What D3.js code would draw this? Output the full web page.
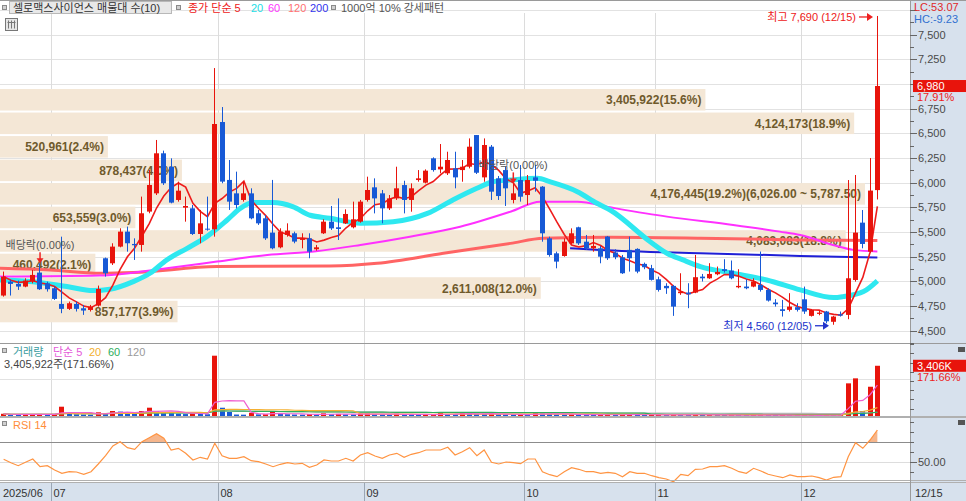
<!DOCTYPE html>
<html lang="ko">
<head>
<meta charset="UTF-8" />
<title>셀로맥스사이언스 일봉</title>
<script src="https://d3js.org/d3.v7.min.js"></script>
<style>
  body { margin: 0; background: #fff; }
  svg { display: block; font-family: "Liberation Sans", "Noto Sans CJK KR", sans-serif; }
</style>
</head>
<body>
<svg id="chart" width="966" height="501"></svg>
<script>
// ---- data ----
const dates = [
  "06/20","06/23","06/24","06/25","06/26","06/27","06/30",
  "07/01","07/02","07/03","07/04","07/07","07/08","07/09","07/10","07/11","07/14","07/15","07/16","07/17","07/18","07/21","07/22","07/23","07/24","07/25","07/28","07/29","07/30","07/31",
  "08/01","08/04","08/05","08/06","08/07","08/08","08/11","08/12","08/13","08/14","08/18","08/19","08/20","08/21","08/22","08/25","08/26","08/27","08/28","08/29",
  "09/01","09/02","09/03","09/04","09/05","09/08","09/09","09/10","09/11","09/12","09/15","09/16","09/17","09/18","09/19","09/22","09/23","09/24","09/25","09/26","09/29","09/30",
  "10/01","10/02","10/10","10/13","10/14","10/15","10/16","10/17","10/20","10/21","10/22","10/23","10/24","10/27","10/28","10/29","10/30","10/31",
  "11/03","11/04","11/05","11/06","11/07","11/10","11/11","11/12","11/13","11/14","11/17","11/18","11/19","11/20","11/21","11/24","11/25","11/26","11/27","11/28",
  "12/01","12/02","12/03","12/04","12/05","12/08","12/09","12/10","12/11","12/12","12/15"
];

const opens = [4856,4997,4974,4947,4997,5089,4980,4930,4771,4721,
  4771,4727,4710,4754,5234,5183,5352,5504,5379,5369,
  5707,5892,6298,6163,5825,5747,5740,5480,5534,5528,
  6615,6028,5892,5825,5892,5690,5639,5494,5345,5470,
  5487,5420,5436,5325,5487,5605,5548,5588,5548,5605,
  5825,5953,5892,5740,5841,5976,5825,6027,6000,6247,
  6135,6095,6145,6128,6162,6483,6054,6365,6044,6128,
  5825,6027,5875,6054,5960,5436,5284,5257,5385,5548,
  5402,5335,5335,5454,5292,5244,5319,5329,5177,5133,
  5021,4954,4954,4880,4886,4886,5048,5031,5072,5123,
  5109,4940,4947,4947,4964,4913,4785,4717,4711,4738,
  4818,4650,4670,4694,4590,4666,4660,5014,5595,5301,
  5925];
const highs = [5099,5014,5008,5031,5116,5183,4997,4947,5453,4795,
  4795,4761,4761,4957,5241,5386,5538,5555,5436,5859,
  6129,6433,6325,6247,6011,5859,5774,5724,5859,7162,
  6767,6230,6112,6011,5943,5724,5673,6028,5538,5588,
  5504,5487,5487,5369,5629,5764,5841,5730,5808,5825,
  6061,6044,5926,5875,6162,6020,5993,6128,6135,6257,
  6392,6314,6314,6230,6449,6483,6449,6382,6068,6162,
  5993,6179,6078,6179,5966,5453,5301,5436,5537,5554,
  5470,5470,5359,5460,5325,5268,5454,5335,5190,5167,
  5048,4981,4964,5082,4981,5268,5075,5184,5150,5224,
  5211,5123,5021,5031,5302,4930,4819,4812,4880,4778,
  4947,4717,4704,4700,4650,4694,6027,6078,5723,6250,
  7690];
const lows = [4845,4856,4913,4940,4980,4913,4896,4812,4677,4710,
  4694,4660,4694,4744,5048,5166,5345,5301,5217,5301,
  5690,5875,5977,5791,5808,5605,5470,5386,5514,5453,
  5994,5724,5740,5808,5629,5572,5420,5325,5335,5453,
  5386,5335,5234,5311,5480,5521,5419,5581,5537,5595,
  5808,5689,5588,5723,5825,5689,5706,6010,5993,6112,
  6095,6078,5943,6010,6145,6088,6010,5825,5825,5764,
  5791,5808,5774,5909,5402,5250,5132,5250,5379,5369,
  5318,5301,5183,5217,5224,5075,5099,5082,5123,5008,
  4896,4873,4650,4863,4728,4880,4998,5025,5062,5089,
  5021,4930,4920,4940,4896,4795,4744,4643,4694,4694,
  4670,4643,4656,4575,4560,4643,4616,4997,5335,5290,
  5830];
const closes = [5048,4974,4947,5008,5065,4920,4920,4822,4721,4778,
  4721,4704,4744,4923,5082,5352,5504,5386,5366,5690,
  5977,6298,5994,5798,5919,5764,5480,5588,5524,6595,
  6011,5808,5774,5892,5639,5588,5436,5335,5504,5514,
  5403,5436,5301,5345,5605,5537,5531,5683,5629,5808,
  5926,5841,5740,5841,5943,5825,5943,6044,6122,6128,
  6162,6230,6054,6162,6365,6101,6382,5909,5865,5943,
  5892,5858,6027,6020,5487,5267,5200,5402,5487,5385,
  5335,5359,5250,5234,5244,5082,5234,5099,5143,5015,
  4913,4930,4744,4896,4869,5042,5031,5075,5096,5106,
  5031,4954,4930,4998,4913,4805,4768,4700,4744,4711,
  4694,4710,4683,4595,4643,4653,5031,5494,5379,5920,
  6980];
const volumes = [150000,90000,80000,100000,120000,140000,90000,110000,630000,180000,
  120000,100000,90000,250000,200000,340000,300000,200000,150000,340000,
  563000,340000,270000,250000,160000,130000,170000,140000,120000,4089000,
  560000,270000,100000,90000,220000,110000,120000,270000,150000,120000,
  100000,90000,130000,80000,180000,120000,140000,110000,100000,150000,
  170000,120000,100000,90000,150000,110000,100000,80000,90000,100000,
  200000,120000,110000,200000,150000,140000,130000,160000,110000,100000,
  90000,100000,90000,200000,180000,140000,100000,90000,110000,90000,
  80000,70000,90000,100000,80000,90000,110000,90000,60000,70000,
  80000,60000,100000,80000,70000,120000,60000,70000,60000,50000,
  60000,50000,40000,50000,80000,60000,50000,60000,50000,40000,
  60000,50000,40000,60000,50000,120000,2214000,2553000,340000,1984115,
  3405922];
const rsi14 = [52.7,49.3,46.3,49.7,53,45.3,46.3,42,38.7,40.3,
  40,37.7,40.3,48,56.3,66,70.3,64.3,62.7,70.3,
  74.3,78.3,73.7,62,63.7,58.7,52,54.7,53,68.7,
  56.3,53.7,53.7,55.3,51.3,50.3,48,45.3,47.7,49.3,
  48,48.7,44.7,47,52,51,51,53.7,51,57,
  59.3,56,53.7,57,58.7,54.7,57.7,59.3,62,62,
  62,64.7,57,60.3,64.3,56.3,62,49.7,48,50,
  49.3,48.3,53,53,40.3,37.3,35.3,40.3,44.3,42.7,
  40.3,40.3,38.7,39.7,38.7,35.3,40.3,38.7,38.7,36.3,
  34.3,33,30.3,37.7,36.3,42.7,43,45.3,45.3,46.3,
  43.7,40.3,38.7,43.7,41,37.7,36,34.3,37,35.3,
  35.3,36,34.3,32,34.7,35.3,55.3,69.3,63.7,72,
  82];

// long moving averages (need history before the window) read as [index, value]
const ma20Pts = [[-0.5,5014],[4,4997],[8.7,4947],[12.3,4906],[14.6,4920],[17.8,4997],[20.1,5082],[22.4,5217],[25.2,5335],[27.9,5453],[30.7,5622],[32.5,5740],[34.3,5798],[37,5798],[39.7,5757],[42.1,5670],[44.8,5640],[49,5588],[53.5,5605],[58.2,5689],[61.7,5825],[65,5943],[67.2,6010],[69.6,6027],[73.3,6044],[75,6010],[78.8,5909],[81.5,5791],[83.3,5723],[88.8,5402],[91.1,5285],[93.3,5217],[95.7,5149],[100.2,5082],[104.8,5014],[109.4,4913],[114,4835],[115.3,4845],[118.1,4896],[120,5005]];
const ma60Pts = [[-0.5,5048],[13.2,5058],[22.4,5133],[29.3,5200],[36.2,5268],[42.9,5305],[49,5369],[55.8,5453],[62.7,5554],[69.6,5706],[73.7,5808],[78.8,5808],[83.3,5750],[91.1,5656],[100.2,5572],[106.6,5504],[109.4,5470],[113.9,5369],[116.7,5319],[120,5302]];
const ma120Pts = [[-0.5,5133],[6.4,5116],[13.2,5082],[17.8,5089],[29.3,5150],[44.8,5156],[51.3,5183],[60.4,5284],[69.6,5385],[74.1,5436],[83.3,5446],[95.7,5437],[109.4,5420],[120,5413]];
const ma200Pts = [[77.8,5335],[81.9,5318],[95.7,5285],[109.4,5258],[120,5241]];

// 매물대 (volume by price, 10 bands from the top)
const bandVols = [3405922, 4124173, 520961, 878437, 4176445, 653559, 4083083, 460492, 2611008, 857177];

const exDivIdx = [5, 70];
const priceTicks = [4500,4750,5000,5250,5500,5750,6000,6250,6500,6750,7000,7250,7500,7750];
const lcText = "LC:53.07", hcText = "HC:-9.23";

// ---- layout ----
const svg = d3.select("#chart");
const W = 966, H = 501, plotW = 910;
const n = dates.length;
const RED = "#e8140c", BLUE = "#1759d6";

const x = d3.scaleBand().domain(d3.range(n)).range([0, 881]).paddingInner(0.3).paddingOuter(0.15);
const xMid = d3.scaleLinear().domain([0, n - 1])
  .range([x(0) + x.bandwidth() / 2, x(n - 1) + x.bandwidth() / 2]);
const yP = d3.scaleLinear().domain([4375, 7852]).range([343, 0]);
const yV = d3.scaleLinear().domain([0, 4950000]).range([416, 343]);
const yR = d3.scaleLinear().domain([31, 94]).range([481, 418]);

const fmt = d3.format(",");

svg.append("rect").attr("width", W).attr("height", H).attr("fill", "#fff");
svg.append("rect").attr("x", plotW).attr("y", 0).attr("width", W - plotW).attr("height", H).attr("fill", "#d7e1ed");
svg.append("rect").attr("x", 0).attr("y", 483).attr("width", W).attr("height", H - 483).attr("fill", "#d7e1ed");

// month boundaries
const monthStarts = d3.range(n).filter(i => i === 0 || dates[i].slice(0, 2) !== dates[i - 1].slice(0, 2));
const boundX = i => Math.round(x(i) - x.step() * x.paddingInner() / 2) + 0.5;

// grid
const grid = svg.append("g");
priceTicks.forEach(t => {
  grid.append("line").attr("x1", 0).attr("x2", plotW).attr("y1", Math.round(yP(t)) + 0.5).attr("y2", Math.round(yP(t)) + 0.5)
    .attr("stroke", "#e2e2e2");
});
monthStarts.filter(i => i > 0).forEach(i => {
  grid.append("line").attr("x1", boundX(i)).attr("x2", boundX(i)).attr("y1", 13).attr("y2", 481).attr("stroke", "#dcdcdc");
  grid.append("line").attr("x1", boundX(i)).attr("x2", boundX(i)).attr("y1", 483).attr("y2", H).attr("stroke", "#9aa6b4");
});
grid.append("line").attr("x1", 0).attr("x2", plotW).attr("y1", Math.round(yV(2500000)) + 0.5).attr("y2", Math.round(yV(2500000)) + 0.5).attr("stroke", "#e2e2e2");
grid.append("line").attr("x1", 0).attr("x2", plotW).attr("y1", Math.round(yR(50)) + 0.5).attr("y2", Math.round(yR(50)) + 0.5).attr("stroke", "#dddddd");
grid.append("line").attr("x1", 0).attr("x2", plotW).attr("y1", Math.round(yR(70)) + 0.5).attr("y2", Math.round(yR(70)) + 0.5).attr("stroke", "#8c8c8c");

// ---- 매물대 bands ----
const hiC = d3.max(closes), loC = d3.min(closes);
const bandStep = (hiC - loC) / bandVols.length;
const volSum = d3.sum(bandVols);
const maxBand = d3.max(bandVols);
const bandW = d3.scaleLinear().domain([0, maxBand]).range([0, 865]);
const bands = svg.append("g");
const bandLabels = svg.append("g").attr("font-size", 12).attr("font-weight", "bold").attr("fill", "#6f5a2c");
bandVols.forEach((v, k) => {
  const top = hiC - k * bandStep, bot = top - bandStep;
  const y0 = yP(top) + 3, y1 = yP(bot) + 1;
  bands.append("rect").attr("x", 0).attr("y", y0).attr("width", bandW(v)).attr("height", y1 - y0).attr("fill", "#f4e7d6");
  let label = fmt(v) + "(" + (v / volSum * 100).toFixed(1) + "%)";
  if (v === maxBand) label += "(" + d3.format(",.2f")(top) + " ~ " + d3.format(",.2f")(bot) + ")";
  bandLabels.append("text").attr("x", bandW(v) - 4).attr("y", (y0 + y1) / 2 + 4.5).attr("text-anchor", "end").text(label);
});

// ---- moving averages ----
const lineIdx = d3.line().x(d => xMid(d[0])).y(d => yP(d[1])).curve(d3.curveMonotoneX);
svg.append("path").attr("d", lineIdx(ma120Pts)).attr("fill", "none").attr("stroke", "#ff6464").attr("stroke-width", 3);
svg.append("path").attr("d", lineIdx(ma200Pts)).attr("fill", "none").attr("stroke", "#1f1fd6").attr("stroke-width", 2);
svg.append("path").attr("d", lineIdx(ma60Pts)).attr("fill", "none").attr("stroke", "#ff30ff").attr("stroke-width", 2);
svg.append("path").attr("d", lineIdx(ma20Pts)).attr("fill", "none").attr("stroke", "#2ee8f0").attr("stroke-width", 5);

const ma5 = closes.map((c, i) => [i, d3.mean(closes.slice(Math.max(0, i - 4), i + 1))]);
svg.append("path").attr("d", d3.line().x(d => xMid(d[0])).y(d => yP(d[1]))(ma5))
  .attr("fill", "none").attr("stroke", "#ee1c1c").attr("stroke-width", 1.6);

// ---- candles ----
const candles = svg.append("g").selectAll("g").data(d3.range(n)).join("g");
const bx = i => Math.round(x(i));
candles.append("line")
  .attr("x1", i => bx(i) + 2.5).attr("x2", i => bx(i) + 2.5)
  .attr("y1", i => yP(highs[i])).attr("y2", i => yP(lows[i]))
  .attr("stroke", i => closes[i] >= opens[i] ? RED : BLUE).attr("stroke-width", 1);
candles.append("rect")
  .attr("x", i => bx(i)).attr("width", 5)
  .attr("y", i => yP(Math.max(opens[i], closes[i])))
  .attr("height", i => Math.max(1, Math.abs(yP(opens[i]) - yP(closes[i]))))
  .attr("fill", i => closes[i] >= opens[i] ? RED : BLUE);

// ---- annotations ----
const ann = svg.append("g").attr("font-size", 11);
exDivIdx.forEach(i => {
  const tip = yP(highs[i]);
  const cx = xMid(i);
  ann.append("line").attr("x1", cx).attr("x2", cx).attr("y1", tip - 11).attr("y2", tip - 4).attr("stroke", "#ee2222").attr("stroke-width", 1.5);
  ann.append("path").attr("d", `M${cx - 3.5},${tip - 5}L${cx + 3.5},${tip - 5}L${cx},${tip}Z`).attr("fill", "#ee2222");
  ann.append("text").attr("x", cx).attr("y", tip - 14).attr("text-anchor", "middle").attr("fill", "#555").text("배당락(0.00%)");
});

const hiIdx = d3.maxIndex(highs), loIdx = d3.minIndex(lows);
function pointer(i, price, color, label) {
  const tipX = bx(i) - 2, ty = yP(price) + 1;
  ann.append("line").attr("x1", tipX - 14).attr("x2", tipX - 4).attr("y1", ty).attr("y2", ty).attr("stroke", color).attr("stroke-width", 1.3);
  ann.append("path").attr("d", `M${tipX - 6},${ty - 4}L${tipX},${ty}L${tipX - 6},${ty + 4}Z`).attr("fill", color);
  ann.append("text").attr("x", tipX - 17).attr("y", ty + 4).attr("text-anchor", "end").attr("fill", color).text(label);
}
pointer(hiIdx, highs[hiIdx], "#ee2020", "최고 " + fmt(highs[hiIdx]) + " (" + dates[hiIdx] + ")");
pointer(loIdx, lows[loIdx], "#2233cc", "최저 " + fmt(lows[loIdx]) + " (" + dates[loIdx] + ")");

// ---- volume panel ----
const vol = svg.append("g");
vol.selectAll("rect").data(d3.range(n)).join("rect")
  .attr("x", i => bx(i)).attr("width", 5)
  .attr("y", i => Math.min(yV(volumes[i]), 415))
  .attr("height", i => Math.max(1, 416 - yV(volumes[i])))
  .attr("fill", i => (i === 0 || volumes[i] >= volumes[i - 1]) ? RED : BLUE);
[[120, "#b4b4b4"], [60, "#2cae5c"], [20, "#f5b030"], [5, "#f060d0"]].forEach(([p, c]) => {
  const m = volumes.map((v, i) => [i, d3.mean(volumes.slice(Math.max(0, i - p + 1), i + 1))]);
  vol.append("path").attr("d", d3.line().x(d => xMid(d[0])).y(d => yV(d[1]))(m))
    .attr("fill", "none").attr("stroke", c).attr("stroke-width", 1.2);
});

// ---- RSI panel ----
const rsiPts = rsi14.map((r, i) => [i, r]);
svg.append("clipPath").attr("id", "ob").append("rect").attr("x", 0).attr("y", 418).attr("width", plotW).attr("height", yR(70) - 418);
svg.append("path").attr("clip-path", "url(#ob)")
  .attr("d", d3.area().x(d => xMid(d[0])).y0(yR(70)).y1(d => yR(d[1]))(rsiPts))
  .attr("fill", "#f6b68c");
svg.append("path").attr("d", d3.line().x(d => xMid(d[0])).y(d => yR(d[1]))(rsiPts))
  .attr("fill", "none").attr("stroke", "#ff9442").attr("stroke-width", 1.2);

// ---- panel borders ----
const brd = svg.append("g").attr("stroke", "#9a9a9a");
brd.append("line").attr("x1", 0).attr("x2", W).attr("y1", 0.5).attr("y2", 0.5);
brd.append("line").attr("x1", 0).attr("x2", W).attr("y1", 343.5).attr("y2", 343.5);
brd.append("line").attr("x1", 0).attr("x2", W).attr("y1", 417).attr("y2", 417).attr("stroke-width", 2).attr("stroke", "#b0b0b0");
brd.append("line").attr("x1", 0).attr("x2", W).attr("y1", 480.5).attr("y2", 480.5).attr("stroke", "#b0b0b0");
brd.append("line").attr("x1", 0).attr("x2", W).attr("y1", 482.5).attr("y2", 482.5).attr("stroke", "#b0b0b0");
brd.append("line").attr("x1", plotW + 0.5).attr("x2", plotW + 0.5).attr("y1", 0).attr("y2", H);

// ---- right axes ----
const ax = svg.append("g").attr("font-size", 11).attr("fill", "#4a4a4a");
const last = n - 1;
const yc = yP(closes[last]);
d3.range(4375, 7852, 125).filter(t => t % 125 === 0).forEach(t => {
  const y = Math.round(yP(t)) + 0.5;
  const major = t % 250 === 0;
  ax.append("line").attr("x1", plotW).attr("x2", plotW + (major ? 7 : 4)).attr("y1", y).attr("y2", y).attr("stroke", "#666");
});
// labels hidden under the current-price box or the LC/HC readout are left out
priceTicks.filter(t => yP(t) > 28 && Math.abs(yP(t) - yc) > 10).forEach(t => {
  ax.append("text").attr("x", 918).attr("y", yP(t) + 4).text(fmt(t));
});
d3.range(500000, 4950000, 625000).forEach(v => {
  const y = Math.round(yV(v)) + 0.5;
  ax.append("line").attr("x1", plotW).attr("x2", plotW + 4).attr("y1", y).attr("y2", y).attr("stroke", "#666");
});
d3.range(40, 94, 10).forEach(r => {
  const y = Math.round(yR(r)) + 0.5;
  ax.append("line").attr("x1", plotW).attr("x2", plotW + (r === 50 ? 7 : 4)).attr("y1", y).attr("y2", y).attr("stroke", "#666");
});
ax.append("text").attr("x", 918).attr("y", yR(50) + 4).text("50.00");

// current price
const chg = (closes[last] / closes[last - 1] - 1) * 100;
ax.append("rect").attr("x", 913).attr("y", yc - 6).attr("width", 53).attr("height", 12).attr("fill", RED);
ax.append("text").attr("x", 917).attr("y", yc + 4).attr("fill", "#fff").text(fmt(closes[last]));
ax.append("text").attr("x", 917).attr("y", yc + 15).attr("fill", "#ee2020").text(chg.toFixed(2) + "%");
ax.append("text").attr("x", 914).attr("y", 11).attr("fill", "#e02828").text(lcText);
ax.append("text").attr("x", 914).attr("y", 23).attr("fill", "#2f6fd0").text(hcText);

// last volume
const vRatio = volumes[last] / volumes[last - 1] * 100;
const yvl = yV(volumes[last]);
ax.append("rect").attr("x", 913).attr("y", yvl - 6).attr("width", 53).attr("height", 12).attr("fill", RED);
ax.append("text").attr("x", 917).attr("y", yvl + 4).attr("fill", "#fff").text(fmt(Math.round(volumes[last] / 1000)) + "K");
ax.append("text").attr("x", 917).attr("y", yvl + 15).attr("fill", "#ee2020").text(vRatio.toFixed(2) + "%");
[347, 420].forEach(y => {
  ax.append("rect").attr("x", 958).attr("y", y).attr("width", 7).attr("height", 5).attr("fill", "#555");
});

// ---- bottom date axis ----
const bt = svg.append("g").attr("font-size", 11).attr("fill", "#333");
monthStarts.forEach((i, k) => {
  const label = k === 0 ? "2025/" + dates[i].slice(0, 2) : dates[i].slice(0, 2);
  bt.append("text").attr("x", k === 0 ? 3 : boundX(i) + 2).attr("y", 497).text(label);
});
bt.append("text").attr("x", 915).attr("y", 497).text(dates[last]);

// ---- legends ----
const lg = svg.append("g").attr("font-size", 11);
function sq(xp, yp) {
  lg.append("rect").attr("x", xp + 0.5).attr("y", yp + 0.5).attr("width", 4).attr("height", 4).attr("fill", "#d0d0d0").attr("stroke", "#8a8a8a");
}
sq(2, 5);
lg.append("rect").attr("x", 9.5).attr("y", 1.5).attr("width", 162).attr("height", 12).attr("fill", "#e8e8e8").attr("stroke", "#b8b8b8");
lg.append("text").attr("x", 13).attr("y", 12).attr("fill", "#333").text("셀로맥스사이언스 매물대 수(10)");
sq(176, 5);
[["종가 단순 5", "#ee2020", 188], ["20", "#22dde6", 251], ["60", "#ff33ff", 268], ["120", "#ff7070", 288], ["200", "#3333ee", 310]]
  .forEach(([t, c, xp]) => lg.append("text").attr("x", xp).attr("y", 12).attr("fill", c).text(t));
sq(331, 5);
lg.append("text").attr("x", 341).attr("y", 12).attr("fill", "#555").text("1000억 10% 강세패턴");

// grid icon
const gi = lg.append("g").attr("transform", "translate(5.5,18.5)");
gi.append("rect").attr("width", 12).attr("height", 12).attr("fill", "#e6e6e6").attr("stroke", "#777");
[3, 6, 9].forEach(v => {
  gi.append("line").attr("x1", v).attr("x2", v).attr("y1", 2).attr("y2", 10).attr("stroke", "#777");
});
gi.append("line").attr("x1", 2).attr("x2", 10).attr("y1", 4).attr("y2", 4).attr("stroke", "#777");

sq(2, 348);
[["거래량", "#3a9da0", 13], ["단순 5", "#e458d8", 53], ["20", "#f2b030", 89], ["60", "#2cae5c", 108], ["120", "#9a9a9a", 127]]
  .forEach(([t, c, xp]) => lg.append("text").attr("x", xp).attr("y", 356).attr("fill", c).text(t));
lg.append("text").attr("x", 4).attr("y", 368).attr("fill", "#444")
  .text(fmt(volumes[last]) + "주(" + vRatio.toFixed(2) + "%)");

sq(2, 421);
lg.append("text").attr("x", 13).attr("y", 429).attr("fill", "#ff8c3a").text("RSI 14");
</script>
</body>
</html>
